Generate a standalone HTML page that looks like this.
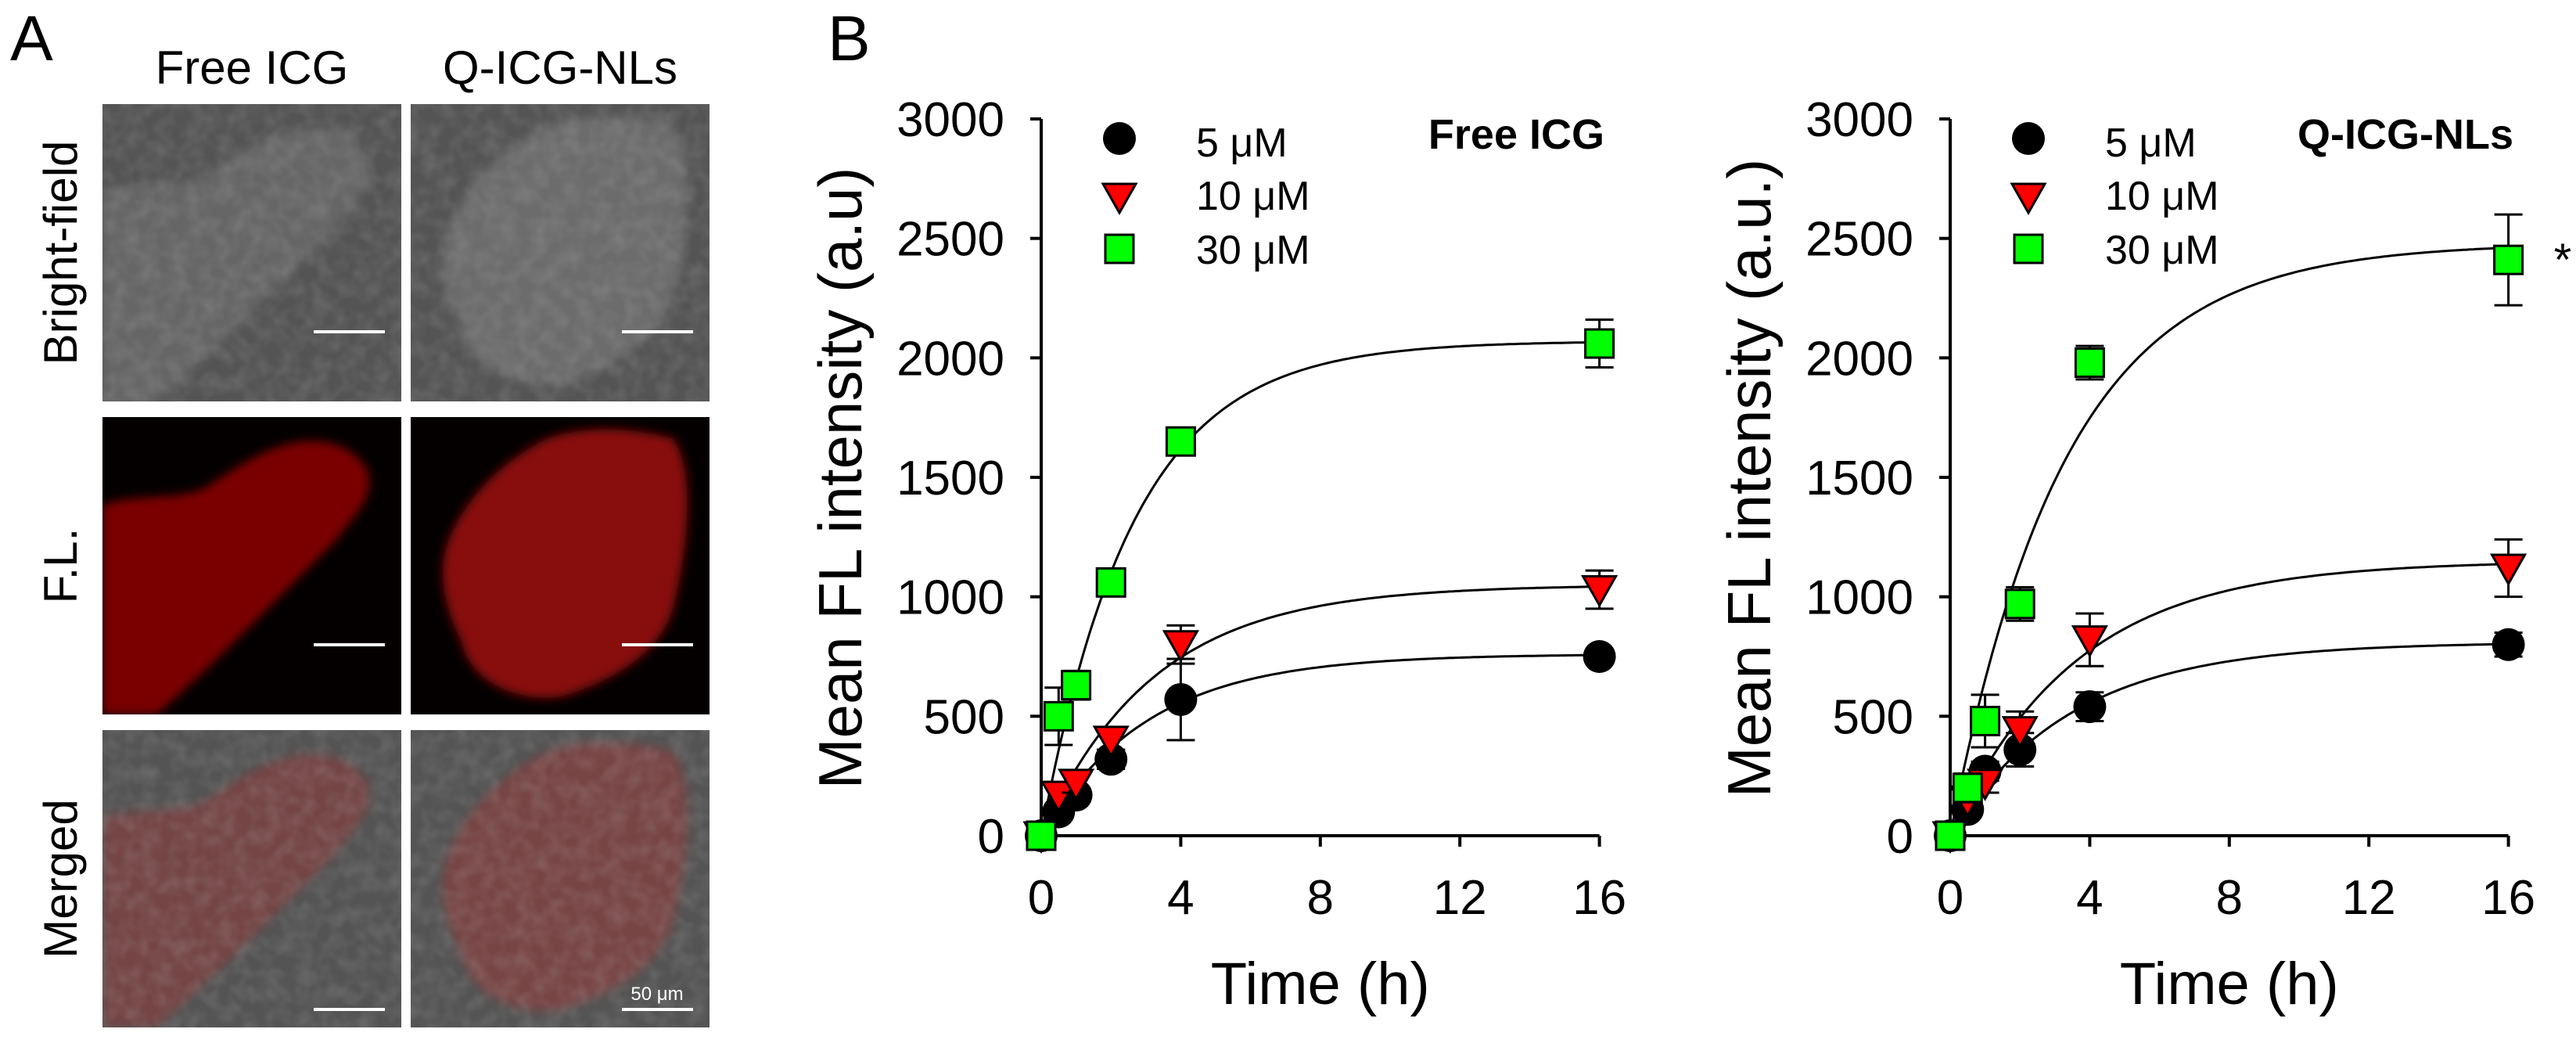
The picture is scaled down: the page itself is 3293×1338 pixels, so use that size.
<!DOCTYPE html>
<html><head><meta charset="utf-8">
<style>
html,body{margin:0;padding:0;background:#fff;}
svg{display:block;font-family:"Liberation Sans",Arial,sans-serif;}
</style></head>
<body>
<svg id="fig" width="3293" height="1338" viewBox="0 0 3293 1338" xmlns="http://www.w3.org/2000/svg">
<defs>
<filter id="blur6" x="-20%" y="-20%" width="140%" height="140%"><feGaussianBlur stdDeviation="6"/></filter>
<filter id="noise" x="0" y="0" width="100%" height="100%">
<feTurbulence type="fractalNoise" baseFrequency="0.05" numOctaves="2" seed="3"/>
<feColorMatrix type="matrix" values="0 0 0 0 0.5  0 0 0 0 0.5  0 0 0 0 0.5  0 0 0 0.35 -0.12"/>
</filter>
<clipPath id="c11"><rect x="131" y="133" width="382" height="380"/></clipPath>
<clipPath id="c12"><rect x="525" y="133" width="382" height="380"/></clipPath>
<clipPath id="c21"><rect x="131" y="533" width="382" height="380"/></clipPath>
<clipPath id="c22"><rect x="525" y="533" width="382" height="380"/></clipPath>
<clipPath id="c31"><rect x="131" y="933" width="382" height="380"/></clipPath>
<clipPath id="c32"><rect x="525" y="933" width="382" height="380"/></clipPath>
</defs>

<!-- Panel A -->
<g>
<text x="13" y="77" font-size="82">A</text>
<text x="322" y="107" font-size="60" text-anchor="middle">Free ICG</text>
<text x="716" y="107" font-size="60" text-anchor="middle">Q-ICG-NLs</text>
<text transform="translate(98,323) rotate(-90)" font-size="60" text-anchor="middle">Bright-field</text>
<text transform="translate(98,723) rotate(-90)" font-size="60" text-anchor="middle">F.L.</text>
<text transform="translate(98,1123) rotate(-90)" font-size="60" text-anchor="middle">Merged</text>

<g clip-path="url(#c11)">
<rect x="131" y="133" width="382" height="380" fill="#545454"/>
<path d="M131,245 C180,230 220,240 260,225 C300,200 330,175 380,165 C420,160 450,170 470,200 C480,240 450,260 430,290 C400,320 370,350 340,380 C300,420 250,470 200,513 L131,513 Z" fill="#666" filter="url(#blur6)"/>
<rect x="131" y="133" width="382" height="380" filter="url(#noise)"/>
<rect x="401" y="422" width="91" height="4" fill="#fff"/>
</g>
<g clip-path="url(#c12)">
<rect x="525" y="133" width="382" height="380" fill="#545454"/>
<path d="M570,300 C590,240 640,190 700,160 C760,140 820,150 860,160 C890,200 880,300 860,380 C840,440 780,470 720,490 C660,500 600,470 590,420 C570,380 560,340 570,300 Z" fill="#6c6c6c" filter="url(#blur6)"/>
<rect x="525" y="133" width="382" height="380" filter="url(#noise)"/>
<rect x="795" y="422" width="91" height="4" fill="#fff"/>
</g>
<g clip-path="url(#c21)">
<rect x="131" y="533" width="382" height="380" fill="#050000"/>
<path d="M131,645 C180,630 220,640 260,625 C300,600 330,575 380,565 C420,560 450,570 470,600 C480,640 450,660 430,690 C400,720 370,750 340,780 C300,820 250,870 200,913 L131,913 Z" fill="#7a0606" filter="url(#blur6)"/>
<rect x="401" y="822" width="91" height="4" fill="#fff"/>
</g>
<g clip-path="url(#c22)">
<rect x="525" y="533" width="382" height="380" fill="#050000"/>
<path d="M570,700 C590,640 640,590 700,560 C760,540 820,550 860,560 C890,600 880,700 860,780 C840,840 780,870 720,890 C660,900 600,870 590,820 C570,780 560,740 570,700 Z" fill="#880808" filter="url(#blur6)"/>
<rect x="795" y="822" width="91" height="4" fill="#fff"/>
</g>
<g clip-path="url(#c31)">
<rect x="131" y="933" width="382" height="380" fill="#545454"/>
<path d="M131,1045 C180,1030 220,1040 260,1025 C300,1000 330,975 380,965 C420,960 450,970 470,1000 C480,1040 450,1060 430,1090 C400,1120 370,1150 340,1180 C300,1220 250,1270 200,1313 L131,1313 Z" fill="#744444" filter="url(#blur6)"/>
<rect x="131" y="933" width="382" height="380" filter="url(#noise)"/>
<rect x="401" y="1288" width="91" height="4" fill="#fff"/>
</g>
<g clip-path="url(#c32)">
<rect x="525" y="933" width="382" height="380" fill="#545454"/>
<path d="M570,1100 C590,1040 640,990 700,960 C760,940 820,950 860,960 C890,1000 880,1100 860,1180 C840,1240 780,1270 720,1290 C660,1300 600,1270 590,1220 C570,1180 560,1140 570,1100 Z" fill="#784545" filter="url(#blur6)"/>
<rect x="525" y="933" width="382" height="380" filter="url(#noise)"/>
<text x="840" y="1278" font-size="24" fill="#fff" text-anchor="middle">50 μm</text>
<rect x="795" y="1288" width="91" height="4" fill="#fff"/>
</g>
</g>

<text x="1058" y="77" font-size="82">B</text>
<g id="chart1"></g>
<g id="chart2"></g>
</svg>

<script>
const times = [0, 0.5, 1, 2, 4, 16];
const seriesNames = ["5 μM", "10 μM", "30 μM"];
const xTicks = [0, 4, 8, 12, 16];
const yTicks = [0, 500, 1000, 1500, 2000, 2500, 3000];

const free5 = [0, 100, 170, 320, 570, 750];
const free5Err = [0, 30, 30, 40, 170, 15];
const free10 = [0, 170, 220, 400, 800, 1030];
const free10Err = [0, 40, 40, 40, 80, 80];
const free30 = [0, 500, 630, 1060, 1650, 2060];
const free30Err = [0, 120, 60, 50, 30, 100];
const freePlateau = [760, 1050, 2070];
const freeRate = [0.33, 0.31, 0.38];

const nl5 = [0, 110, 270, 360, 540, 800];
const nl5Err = [0, 30, 40, 70, 60, 50];
const nl10 = [0, 150, 220, 440, 820, 1120];
const nl10Err = [0, 40, 40, 80, 110, 120];
const nl30 = [0, 200, 480, 970, 1980, 2410];
const nl30Err = [0, 60, 110, 70, 70, 190];
const nlPlateau = [810, 1150, 2480];
const nlRate = [0.29, 0.28, 0.305];

const NS = "http://www.w3.org/2000/svg";
function mk(tag, attrs, parent) {
  const e = document.createElementNS(NS, tag);
  for (const k in attrs) e.setAttribute(k, attrs[k]);
  parent.appendChild(e);
  return e;
}

function drawChart(gid, x0, title, yTitle, vals, errs, plateau, rate, star) {
  const g = document.getElementById(gid);
  const xMax = 16, yMax = 3000;
  const pxPerH = 44.6;
  const yBase = 1068, yTop = 152;
  const X = t => x0 + t * pxPerH;
  const Y = v => yBase - (v / yMax) * (yBase - yTop);

  const ya = mk("line", {x1: x0, y1: Y(yMax), x2: x0, y2: Y(0), stroke: "#000", "stroke-width": 4}, g);
  
  
  const xa = mk("line", {x1: x0, y1: Y(0), x2: X(xMax), y2: Y(0), stroke: "#000", "stroke-width": 4}, g);
  
  

  yTicks.forEach(v => {
    const t = mk("line", {x1: x0 - 14, y1: Y(v), x2: x0, y2: Y(v), stroke: "#000", "stroke-width": 4}, g);
    
    
    const l = mk("text", {x: x0 - 47, y: Y(v) + 22, "font-size": 62, "text-anchor": "end"}, g);
    l.textContent = v;
    
    
  });
  xTicks.forEach(v => {
    const t = mk("line", {x1: X(v), y1: Y(0), x2: X(v), y2: Y(0) + 14, stroke: "#000", "stroke-width": 4}, g);
    
    
    const l = mk("text", {x: X(v), y: 1168, "font-size": 62, "text-anchor": "middle"}, g);
    l.textContent = v;
    
    
  });

  const xt = mk("text", {x: X(8), y: 1283, "font-size": 76, "text-anchor": "middle"}, g);
  xt.textContent = "Time (h)";
  
  
  const yt = mk("text", {transform: `translate(${x0 - 230},611) rotate(-90)`, "font-size": 78, "text-anchor": "middle"}, g);
  yt.textContent = yTitle;
  
  

  const tt = mk("text", {x: x0 + 720, y: 190, "font-size": 54, "font-weight": "bold", "text-anchor": "end"}, g);
  tt.textContent = title;
  
  

  for (let s = 0; s < 3; s++) {
    let d = "";
    for (let i = 0; i <= 160; i++) {
      const t = i * 0.1;
      const v = plateau[s] * (1 - Math.exp(-rate[s] * t));
      d += (i ? "L" : "M") + X(t).toFixed(1) + "," + Y(v).toFixed(1);
    }
    const p = mk("path", {d: d, fill: "none", stroke: "#000", "stroke-width": 3}, g);
    
    
  }

  const fills = ["#000", "#ff0000", "#00ff00"];
  function marker(s, cx, cy, parent) {
    let m;
    if (s === 0) m = mk("circle", {cx: cx, cy: cy, r: 21, fill: "#000"}, parent);
    else if (s === 1) m = mk("polygon", {points: `${cx-21},${cy-17} ${cx+21},${cy-17} ${cx},${cy+20}`, fill: fills[1], stroke: "#000", "stroke-width": 3}, parent);
    else m = mk("rect", {x: cx - 18, y: cy - 18, width: 36, height: 36, fill: fills[2], stroke: "#000", "stroke-width": 3}, parent);
    return m;
  }

  for (let s = 0; s < 3; s++) {
    const sg = mk("g", {}, g);
    
    
    times.forEach((t, i) => {
      const v = vals[s][i], e = errs[s][i];
      if (e > 0) {
        const cx = X(t);
        const eb = mk("path", {d: `M${cx},${Y(v - e)}L${cx},${Y(v + e)}M${cx - 18},${Y(v + e)}L${cx + 18},${Y(v + e)}M${cx - 18},${Y(v - e)}L${cx + 18},${Y(v - e)}`, stroke: "#000", "stroke-width": 3, fill: "none"}, sg);
        
        
      }
      const m = marker(s, X(t), Y(v), sg);
      
      
    });
  }

  const legY = [177, 252, 318];
  const baseY = [200, 268, 337];
  for (let s = 0; s < 3; s++) {
    const m = marker(s, x0 + 100, legY[s], g);
    
    
    const l = mk("text", {x: x0 + 198, y: baseY[s], "font-size": 52}, g);
    l.textContent = seriesNames[s];
    
    
  }

  if (star) {
    const a = mk("text", {x: X(16) + 58, y: 352, "font-size": 58}, g);
    a.textContent = "*";
    
    
  }
}

drawChart("chart1", 1331, "Free ICG", "Mean FL intensity (a.u)",
  [free5, free10, free30], [free5Err, free10Err, free30Err], freePlateau, freeRate, false);
drawChart("chart2", 2493, "Q-ICG-NLs", "Mean FL intensity (a.u.)",
  [nl5, nl10, nl30], [nl5Err, nl10Err, nl30Err], nlPlateau, nlRate, true);
</script>
</body></html>
